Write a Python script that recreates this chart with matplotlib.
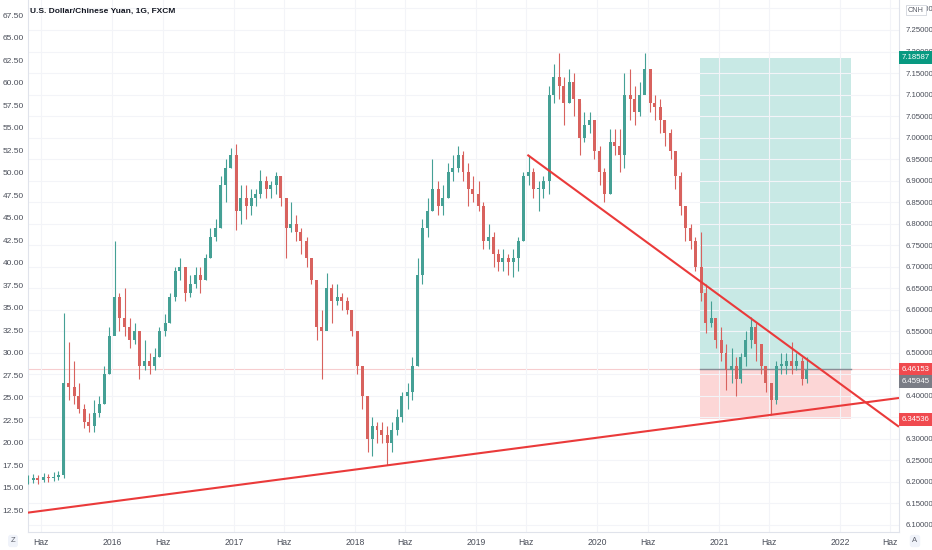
import numpy as np
import pandas as pd
import matplotlib
matplotlib.use('Agg')
import matplotlib.pyplot as plt
import matplotlib.dates as mdates
from matplotlib.transforms import blended_transform_factory
from matplotlib.patches import Rectangle

plt.rcParams['font.family'] = ['Liberation Sans', 'DejaVu Sans']

# ---------------- data (semi-monthly candles) ----------------
start_date = '2015-04-15'
closes = [6.205, 6.210, 6.205, 6.212, 6.208, 6.212, 6.215, 6.430, 6.420, 6.400,
          6.370, 6.340, 6.330, 6.360, 6.380, 6.450, 6.540, 6.630, 6.580, 6.560,
          6.530, 6.550, 6.470, 6.480, 6.470, 6.490, 6.550, 6.570, 6.630, 6.690,
          6.700, 6.640, 6.660, 6.680, 6.670, 6.720, 6.770, 6.790, 6.890, 6.930,
          6.960, 6.830, 6.860, 6.840, 6.860, 6.870, 6.900, 6.880, 6.890, 6.910,
          6.860, 6.790, 6.800, 6.780, 6.760, 6.720, 6.670, 6.560, 6.550, 6.650,
          6.620, 6.630, 6.620, 6.600, 6.550, 6.470, 6.400, 6.300, 6.330, 6.320,
          6.310, 6.290, 6.320, 6.350, 6.400, 6.410, 6.470, 6.680, 6.790, 6.830,
          6.880, 6.840, 6.860, 6.920, 6.930, 6.960, 6.920, 6.880, 6.870, 6.840,
          6.760, 6.770, 6.730, 6.710, 6.720, 6.710, 6.720, 6.760, 6.910, 6.920,
          6.880, 6.880, 6.900, 7.100, 7.140, 7.120, 7.080, 7.130, 7.090, 7.000,
          7.030, 7.040, 6.970, 6.920, 6.870, 6.990, 6.980, 6.960, 7.100, 7.090,
          7.060, 7.100, 7.160, 7.080, 7.070, 7.040, 7.010, 6.970, 6.910, 6.840,
          6.790, 6.760, 6.700, 6.640, 6.570, 6.580, 6.530, 6.500, 6.460, 6.470,
          6.440, 6.490, 6.530, 6.560, 6.520, 6.470, 6.430, 6.390, 6.470, 6.470,
          6.480, 6.470, 6.480, 6.440, 6.459]
highs = [6.215, 6.218, 6.215, 6.220, 6.218, 6.222, 6.225, 6.593, 6.525, 6.480,
         6.430, 6.380, 6.360, 6.390, 6.400, 6.470, 6.560, 6.760, 6.640, 6.650,
         6.580, 6.570, 6.540, 6.530, 6.500, 6.510, 6.560, 6.590, 6.640, 6.700,
         6.720, 6.700, 6.680, 6.700, 6.700, 6.730, 6.790, 6.810, 6.910, 6.950,
         6.975, 6.985, 6.890, 6.890, 6.880, 6.880, 6.925, 6.910, 6.900, 6.920,
         6.910, 6.860, 6.850, 6.820, 6.790, 6.770, 6.720, 6.660, 6.600, 6.685,
         6.660, 6.660, 6.640, 6.630, 6.600, 6.550, 6.470, 6.400, 6.350, 6.340,
         6.340, 6.330, 6.340, 6.370, 6.410, 6.430, 6.490, 6.720, 6.810, 6.860,
         6.950, 6.900, 6.890, 6.940, 6.960, 6.980, 6.970, 6.940, 6.910, 6.900,
         6.850, 6.800, 6.780, 6.740, 6.740, 6.730, 6.740, 6.770, 6.920, 6.960,
         6.930, 6.900, 6.910, 7.120, 7.170, 7.197, 7.140, 7.160, 7.150, 7.080,
         7.060, 7.060, 7.040, 6.980, 6.930, 7.020, 7.020, 7.020, 7.150, 7.160,
         7.120, 7.130, 7.197, 7.150, 7.100, 7.090, 7.040, 7.020, 6.970, 6.920,
         6.840, 6.800, 6.770, 6.780, 6.660, 6.620, 6.570, 6.560, 6.520, 6.510,
         6.490, 6.500, 6.550, 6.583, 6.570, 6.520, 6.470, 6.420, 6.480, 6.500,
         6.500, 6.525, 6.500, 6.490, 6.490]
lows = [6.195, 6.198, 6.195, 6.200, 6.200, 6.203, 6.205, 6.210, 6.390, 6.380,
        6.360, 6.325, 6.315, 6.315, 6.350, 6.380, 6.450, 6.550, 6.550, 6.540,
        6.510, 6.520, 6.440, 6.460, 6.450, 6.460, 6.490, 6.540, 6.570, 6.620,
        6.670, 6.620, 6.630, 6.650, 6.640, 6.670, 6.720, 6.760, 6.790, 6.850,
        6.930, 6.785, 6.800, 6.810, 6.820, 6.840, 6.860, 6.860, 6.860, 6.870,
        6.840, 6.720, 6.780, 6.760, 6.730, 6.700, 6.660, 6.530, 6.440, 6.570,
        6.570, 6.610, 6.600, 6.590, 6.540, 6.450, 6.370, 6.270, 6.260, 6.290,
        6.290, 6.240, 6.270, 6.310, 6.340, 6.370, 6.390, 6.470, 6.660, 6.770,
        6.830, 6.820, 6.820, 6.860, 6.900, 6.920, 6.900, 6.840, 6.850, 6.830,
        6.740, 6.740, 6.700, 6.690, 6.690, 6.680, 6.675, 6.690, 6.760, 6.890,
        6.860, 6.830, 6.860, 6.870, 7.080, 7.090, 7.030, 7.080, 7.050, 6.960,
        6.990, 7.010, 6.950, 6.890, 6.850, 6.870, 6.960, 6.920, 6.930, 7.040,
        7.030, 7.050, 7.110, 7.060, 7.040, 7.010, 6.980, 6.950, 6.880, 6.820,
        6.760, 6.740, 6.690, 6.620, 6.545, 6.560, 6.510, 6.480, 6.414, 6.430,
        6.400, 6.430, 6.470, 6.510, 6.480, 6.450, 6.410, 6.355, 6.380, 6.450,
        6.450, 6.450, 6.460, 6.425, 6.430]
first_open = 6.200

right_ticks = [6.10, 6.15, 6.20, 6.25, 6.30, 6.35, 6.40, 6.45, 6.50, 6.55, 6.60,
               6.65, 6.70, 6.75, 6.80, 6.85, 6.90, 6.95, 7.00, 7.05, 7.10, 7.15,
               7.20, 7.25, 7.30]
left_ticks = [12.5, 15.0, 17.5, 20.0, 22.5, 25.0, 27.5, 30.0, 32.5, 35.0, 37.5,
              40.0, 42.5, 45.0, 47.5, 50.0, 52.5, 55.0, 57.5, 60.0, 62.5, 65.0, 67.5]
time_ticks = ['2015-06-01', '2016-01-01', '2016-06-01', '2017-01-01', '2017-06-01',
              '2018-01-01', '2018-06-01', '2019-01-01', '2019-06-01', '2020-01-01',
              '2020-06-01', '2021-01-01', '2021-06-01', '2022-01-01', '2022-06-01']
time_labels = ['Haz', '2016', 'Haz', '2017', 'Haz', '2018', 'Haz', '2019', 'Haz',
               '2020', 'Haz', '2021', 'Haz', '2022', 'Haz']

# trend lines (date, price)
desc_line = [('2019-06-04', 6.960), ('2022-06-27', 6.328)]
asc_line = [('2015-04-16', 6.128), ('2022-06-27', 6.395)]

# long position tool
pos_start, pos_end = '2020-11-05', '2022-02-03'
target_price = 7.18587
entry_price = 6.46153
stop_price = 6.34536
last_price = 6.45945

# ---------------- figure ----------------
W, H = 932, 550
fig = plt.figure(figsize=(W / 100, H / 100), dpi=100)
ax = fig.add_axes([28 / W, 18 / H, 871 / W, 532 / H])
axl = ax.twinx()  # left scale (created first; twinx resets the host's tick side)
axl.set_zorder(0)
ax.set_zorder(1)
ax.patch.set_visible(False)

dates = pd.date_range(start_date, periods=len(closes), freq='SMS') + pd.Timedelta(days=7)
x = mdates.date2num(dates.to_pydatetime())
opens = [first_open] + closes[:-1]

up_c, dn_c = '#45a095', '#d8625e'
body_w = 9.0
for xi, o, h, l, c in zip(x, opens, highs, lows, closes):
    col = up_c if c >= o else dn_c
    ax.vlines(xi, l, h, color=col, lw=0.8, zorder=3)
    b0, b1 = min(o, c), max(o, c)
    if b1 - b0 < 0.004:
        b1 = b0 + 0.004
    ax.add_patch(Rectangle((xi - body_w / 2, b0), body_w, b1 - b0, facecolor=col,
                           edgecolor='none', zorder=3))

# position tool
xs = mdates.date2num(pd.Timestamp(pos_start))
xe = mdates.date2num(pd.Timestamp(pos_end))
ax.add_patch(Rectangle((xs, entry_price), xe - xs, target_price - entry_price,
                       facecolor='#c8e9e5', edgecolor='none', zorder=1))
ax.add_patch(Rectangle((xs, stop_price), xe - xs, entry_price - stop_price,
                       facecolor='#fcd6d6', edgecolor='none', zorder=1))
ax.plot([xs, xe], [entry_price, entry_price], color='#8a8d96', lw=1.0, zorder=2)

# last price line
ax.axhline(entry_price, color='#f5b8bb', lw=0.8, alpha=0.7, zorder=1.5)

# trend lines
for line in (desc_line, asc_line):
    lx = [mdates.date2num(pd.Timestamp(d)) for d, _ in line]
    ly = [p for _, p in line]
    ax.plot(lx, ly, color='#ea3a3a', lw=1.5, zorder=4, solid_capstyle='butt')

# limits
ax.set_xlim(mdates.date2num(pd.Timestamp('2015-04-22')), mdates.date2num(pd.Timestamp('2022-06-27')))
ax.set_ylim(6.0836, 7.3197)

lab_col = '#4a4e59'
# right price axis
ax.yaxis.tick_right()
ax.set_yticks(right_ticks)
ax.set_yticklabels(['%.5f' % v for v in right_ticks])
ax.tick_params(axis='y', which='both', left=False, labelleft=False, right=False, labelright=True,
               length=0, pad=5, labelsize=5.6, labelcolor=lab_col)
ax.set_xticks([mdates.date2num(pd.Timestamp(d)) for d in time_ticks])
ax.set_xticklabels(time_labels)
ax.tick_params(axis='x', length=0, pad=4, labelsize=6.2, labelcolor=lab_col)

ax.grid(True, color='#f3f4f8', lw=0.8, zorder=0)
ax.spines['top'].set_visible(False)
for s in ['left', 'right', 'bottom']:
    ax.spines[s].set_color('#e0e3eb')
    ax.spines[s].set_linewidth(0.8)

# left axis
axl.set_ylim(10.0556, 69.1667)
axl.set_yticks(left_ticks)
axl.set_yticklabels(['%.2f' % v for v in left_ticks])
axl.tick_params(axis='y', which='both', left=False, labelleft=True, right=False, labelright=False,
                length=0, pad=3, labelsize=6.0, labelcolor=lab_col)
for s in axl.spines.values():
    s.set_visible(False)

# title
ax.text(2 / 871, 1 - 11 / 532, 'U.S. Dollar/Chinese Yuan, 1G, FXCM', transform=ax.transAxes,
        ha='left', va='center', fontsize=6.0, color='#131722', fontweight='bold', zorder=6)

# right-axis labels
tr = blended_transform_factory(ax.transAxes, ax.transData)
lx0 = 1 + 3 / 871
def plabel(val, fc, dy=0):
    ax.annotate('%.5f' % val, xy=(lx0, val), xycoords=tr, xytext=(0, dy),
                textcoords='offset points', ha='left', va='center', fontsize=5.6,
                color='white', annotation_clip=False, zorder=10,
                bbox=dict(boxstyle='square,pad=0.35', fc=fc, ec='none'))

plabel(target_price, '#089981')
plabel(entry_price, '#f04a4f')
plabel(last_price, '#7a7d86', dy=-8)
plabel(stop_price, '#f04a4f')

# CNH badge
ax.text(1 + 17 / 871, 1 - 10 / 532, 'CNH', transform=ax.transAxes, ha='center', va='center',
        fontsize=5.2, color='#5d606b', zorder=10,
        bbox=dict(boxstyle='square,pad=0.25', fc='white', ec='#d1d4dc', lw=0.6))

# corner buttons
fig.text(13 / W, 1 - 541 / H, 'Z', ha='center', va='center', fontsize=5.5, color='#5d606b',
         bbox=dict(boxstyle='round,pad=0.35', fc='#f0f3fa', ec='none'))
fig.text(915 / W, 1 - 541 / H, 'A', ha='center', va='center', fontsize=5.5, color='#5d606b',
         bbox=dict(boxstyle='round,pad=0.35', fc='#f0f3fa', ec='none'))

fig.savefig('out.png', dpi=100, facecolor='white')
